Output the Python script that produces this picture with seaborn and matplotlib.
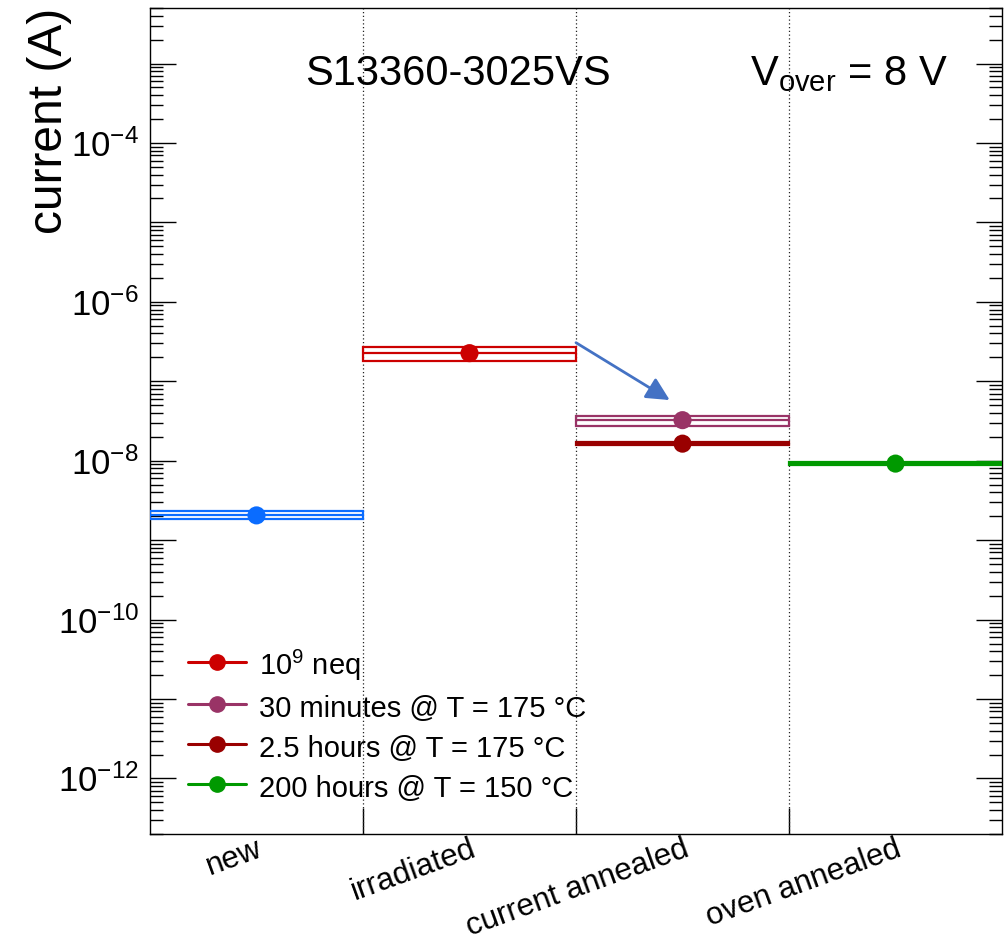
import numpy as np
import pandas as pd
import matplotlib
matplotlib.use("Agg")
import matplotlib.pyplot as plt
import matplotlib.ticker as mticker
from matplotlib.patches import Rectangle
from matplotlib.lines import Line2D
import seaborn as sns

# Device stages along the x axis (one bin each)
stages = ["new", "irradiated", "current annealed", "oven annealed"]

# Dark-current measurements: stage bin, central value and uncertainty band (A)
meas_stage = [0, 1, 2, 2, 3]
meas_value = [2.05e-9, 2.26e-7, 3.24e-8, 1.64e-8, 9.2e-9]
meas_low = [1.85e-9, 1.82e-7, 2.76e-8, 1.58e-8, 8.9e-9]
meas_high = [2.32e-9, 2.73e-7, 3.61e-8, 1.70e-8, 9.5e-9]
meas_label = ["new", "$10^{9}$ neq", "30 minutes @ T = 175 °C",
              "2.5 hours @ T = 175 °C", "200 hours @ T = 150 °C"]
meas_color = ["#0a6cff", "#cc0000", "#993366", "#990000", "#009900"]
in_legend = [False, True, True, True, True]

# Arrow showing the drop after the first annealing step
arrow_from = (2.0, 3.06e-7)
arrow_to = (2.44, 5.8e-8)

sns.set_style("ticks")
plt.rcParams["font.family"] = ["Liberation Sans", "DejaVu Sans"]
plt.rcParams["mathtext.fontset"] = "custom"
plt.rcParams["mathtext.rm"] = "Liberation Sans"
plt.rcParams["mathtext.it"] = "Liberation Sans:italic"
plt.rcParams["mathtext.bf"] = "Liberation Sans:bold"
plt.rcParams["text.color"] = "black"
plt.rcParams["axes.labelcolor"] = "black"
plt.rcParams["xtick.color"] = "black"
plt.rcParams["ytick.color"] = "black"

fig = plt.figure(figsize=(10.07, 9.41), dpi=100)
ax = fig.add_axes([150 / 1007, 107 / 941, 852 / 1007, 826 / 941])
ax.set_yscale("log")
ax.set_xlim(0, len(stages))
ax.set_ylim(2e-13, 5e-3)

# stage separators
for b in range(1, len(stages)):
    ax.axvline(b, color="#222222", lw=0.9, ls=(0, (1, 2)), zorder=1)

# uncertainty boxes with a line at the central value
for st, v, lo, hi, c in zip(meas_stage, meas_value, meas_low, meas_high, meas_color):
    ax.add_patch(Rectangle((st, lo), 1, hi - lo, fill=False, ec=c, lw=1.6, zorder=3))
    ax.hlines(v, st, st + 1, color=c, lw=1.6, zorder=3)

df = pd.DataFrame({
    "x": [s + 0.5 for s in meas_stage],
    "y": meas_value,
    "series": meas_label,
})
sns.scatterplot(data=df, x="x", y="y", hue="series",
                palette=dict(zip(meas_label, meas_color)), s=170,
                linewidth=0, legend=False, ax=ax, zorder=5)

ax.annotate("", xy=arrow_to, xytext=arrow_from,
            arrowprops=dict(arrowstyle="-|>,head_length=0.5,head_width=0.25",
                            color="#4472c4", lw=2.0,
                            mutation_scale=28, shrinkA=0, shrinkB=0),
            zorder=4)

# x axis: ticks at bin edges, labels at bin centres
ax.set_xticks(range(1, len(stages)))
ax.set_xticklabels([])
ax.set_xticks([i + 0.5 for i in range(len(stages))], minor=True)
ax.set_xticklabels(stages, minor=True, rotation=20, ha="right",
                   rotation_mode="anchor", fontsize=22.5)
ax.tick_params(axis="x", which="major", direction="in", length=19, width=1)
ax.tick_params(axis="x", which="minor", length=0, pad=0)
ax.set_xlabel("")

# y axis: every decade ticked, even decades labelled
ax.yaxis.set_major_locator(mticker.FixedLocator([10.0 ** k for k in range(-13, -2)]))
ax.yaxis.set_major_formatter(mticker.FuncFormatter(
    lambda v, p: (r"$10^{%d}$" % round(np.log10(v))) if round(np.log10(v)) % 2 == 0 else ""))
ax.yaxis.set_minor_locator(mticker.LogLocator(base=10, subs=np.arange(2, 10) * 1.0, numticks=100))
ax.yaxis.set_minor_formatter(mticker.NullFormatter())
ax.tick_params(axis="y", which="both", direction="in", left=True, right=True, width=1)
ax.tick_params(axis="y", which="major", length=19, labelsize=25, pad=8)
ax.tick_params(axis="y", which="minor", length=9.5)

for s in ax.spines.values():
    s.set_linewidth(1.0)
    s.set_color("black")

ax.set_ylabel("current (A)", fontsize=34.5, loc="top")
ax.yaxis.set_label_coords(-0.092, 1.0)

ax.text(0.182, 0.907, "S13360-3025VS", transform=ax.transAxes,
        ha="left", va="baseline", fontsize=30)
ax.text(0.704, 0.907, r"V$_{\mathrm{over}}$ = 8 V", transform=ax.transAxes,
        ha="left", va="baseline", fontsize=30)

handles, labels = [], []
for lab, c, show in zip(meas_label, meas_color, in_legend):
    if show:
        handles.append(Line2D([], [], color=c, lw=2.2, marker="o", ms=11, mec=c))
        labels.append(lab)
ax.legend(handles, labels, loc="upper left", bbox_to_anchor=(0.0446, 0.226),
          frameon=False, fontsize=21, handlelength=2.0, handletextpad=0.45,
          handleheight=1.3, labelspacing=0.29, borderpad=0, borderaxespad=0)

fig.savefig("out.png", dpi=100)
